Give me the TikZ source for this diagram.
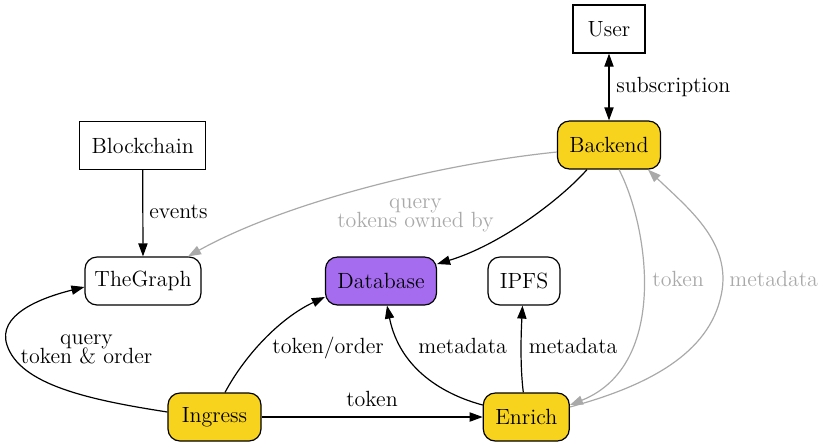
\documentclass[tikz,border=0pt]{standalone}
\usetikzlibrary{arrows.meta}
\definecolor{gvyellow}{HTML}{F8D31E}
\definecolor{gvpurple}{HTML}{A66CF0}
\definecolor{gvgray}{HTML}{A9A9A9}
\setlength{\lineskiplimit}{-10pt}
\begin{document}
\begin{tikzpicture}[x=0.5pt,y=-0.5pt,
  >={Triangle[length=6.5pt,width=4.6pt]},
  every node/.style={font=\fontsize{11}{9}\selectfont},
  box/.style={draw, line width=0.6pt, inner sep=0pt, minimum height=24pt},
  rbox/.style={box, rounded corners=6pt},
  edge/.style={line width=0.6pt, ->},
  gedge/.style={edge, draw=gvgray},
  lbl/.style={inner sep=0pt},
  glbl/.style={lbl, text=gvgray},
  twoline/.style={align=center, font=\fontsize{11}{9.7}\selectfont}]
\useasboundingbox (0,0) rectangle (825,447);

% nodes
\node[box, minimum width=36pt] (User) at (609,29) {User};
\node[rbox, fill=gvyellow, minimum width=51.5pt] (Backend) at (609,145) {Backend};
\node[box, minimum width=63pt] (Blockchain) at (142.7,145.5) {Blockchain};
\node[rbox, minimum width=58pt] (TheGraph) at (143,281) {TheGraph};
\node[rbox, fill=gvpurple, minimum width=55.5pt] (Database) at (381,281) {Database};
\node[rbox, minimum width=36pt] (IPFS) at (524,281) {IPFS};
\node[rbox, fill=gvyellow, minimum width=46.5pt] (Ingress) at (214.5,417) {Ingress};
\node[rbox, fill=gvyellow, minimum width=43pt] (Enrich) at (526.3,417) {Enrich};

% edges
\draw[edge,<->] (User.south) -- (Backend.north);
\draw[edge] (Blockchain.south) -- (TheGraph.north);
\draw[gedge] ([shift={(0,7)}]Backend.west) .. controls (430,165) and (280,205) .. ([shift={(45,0)}]TheGraph.north);
\draw[edge] ([shift={(-22,0)}]Backend.south) .. controls (560,200) and (500,245) .. ([shift={(0,-17)}]Database.east);
\draw[gedge] ([shift={(10,0)}]Backend.south) .. controls (648,225) and (670,365) .. ([shift={(0,-12)}]Enrich.east);
\draw[gedge] ([shift={(0,-10)}]Enrich.east) .. controls (640,388) and (705,358) .. (720,300)
   .. controls (735,245) and (690,210) .. ([shift={(39,0)}]Backend.south);
\draw[edge] ([shift={(0,-5)}]Ingress.west) .. controls (90,400) and (20,385) .. (7,345)
   .. controls (-3,315) and (40,298) .. ([shift={(0,6)}]TheGraph.west);
\draw[edge] ([shift={(10.5,0)}]Ingress.north) .. controls (245,355) and (280,318) .. ([shift={(0,16)}]Database.west);
\draw[edge] (Ingress.east) -- (Enrich.west);
\draw[edge] ([shift={(0,-12)}]Enrich.west) .. controls (445,395) and (400,370) .. ([shift={(6,0)}]Database.south);
\draw[edge] ([shift={(-3,0)}]Enrich.north) .. controls (520,365) and (521,335) .. ([shift={(-1.5,0)}]IPFS.south);

% labels
\node[lbl, anchor=base west] (lsub) at (616,92) {subscription};
\node[lbl, anchor=base west] (lev) at (149,218) {events};
\node[glbl, twoline] (lqto) at (415.5,215.4) {query\\tokens owned by};
\node[glbl, anchor=base west] (ltok) at (652,286) {token};
\node[glbl, anchor=base west] (lmeta) at (729,286) {metadata};
\node[lbl, twoline] (lqtor) at (86.5,349.6) {query\\token \& order};
\node[lbl, anchor=base west] (ltor) at (272,353) {token/order};
\node[lbl, anchor=base] (ltk) at (372,406.5) {token};
\node[lbl, anchor=base west] (lmd1) at (418,353) {metadata};
\node[lbl, anchor=base west] (lmd2) at (528.5,353) {metadata};
\end{tikzpicture}
\end{document}
